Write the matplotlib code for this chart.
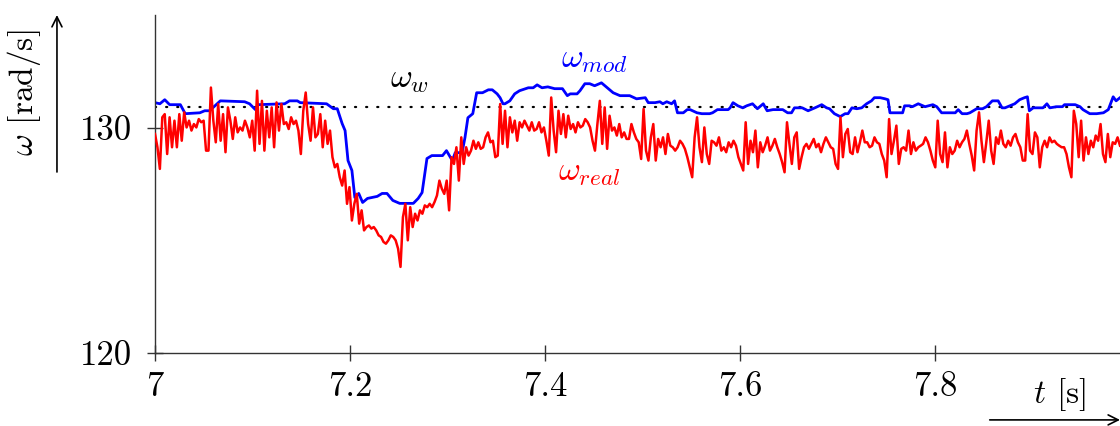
import matplotlib.pyplot as plt
import numpy as np

plt.rcParams['font.family'] = 'serif'
plt.rcParams['font.serif'] = ['cmr10']
plt.rcParams['mathtext.fontset'] = 'cm'
plt.rcParams['axes.unicode_minus'] = False

# model speed (blue), step-like
t_mod = [7.000, 7.005, 7.010, 7.015, 7.026, 7.031, 7.046, 7.051, 7.056, 7.067,
         7.092, 7.097, 7.103, 7.106, 7.133, 7.138, 7.146, 7.149, 7.176, 7.183,
         7.187, 7.192, 7.195, 7.198, 7.202, 7.205, 7.209, 7.213, 7.218, 7.228,
         7.233, 7.238, 7.244, 7.251, 7.265, 7.270, 7.274, 7.279, 7.284, 7.295,
         7.299, 7.305, 7.308, 7.315, 7.318, 7.321, 7.326, 7.330, 7.336, 7.342,
         7.346, 7.351, 7.354, 7.357, 7.359, 7.364, 7.369, 7.374, 7.383, 7.388,
         7.392, 7.397, 7.403, 7.410, 7.418, 7.423, 7.426, 7.433, 7.436, 7.441,
         7.446, 7.451, 7.458, 7.465, 7.470, 7.477, 7.487, 7.494, 7.503, 7.506,
         7.513, 7.518, 7.521, 7.525, 7.530, 7.533, 7.536, 7.542, 7.546, 7.549,
         7.556, 7.561, 7.569, 7.572, 7.577, 7.588, 7.590, 7.593, 7.598, 7.603,
         7.607, 7.613, 7.618, 7.624, 7.628, 7.634, 7.644, 7.649, 7.653, 7.656,
         7.664, 7.670, 7.677, 7.684, 7.689, 7.692, 7.697, 7.703, 7.708, 7.711,
         7.715, 7.720, 7.725, 7.730, 7.735, 7.738, 7.744, 7.749, 7.752, 7.754,
         7.767, 7.769, 7.774, 7.777, 7.783, 7.790, 7.798, 7.802, 7.807, 7.815,
         7.821, 7.824, 7.828, 7.833, 7.836, 7.843, 7.849, 7.853, 7.859, 7.865,
         7.869, 7.872, 7.877, 7.882, 7.887, 7.892, 7.895, 7.897, 7.901, 7.911,
         7.915, 7.918, 7.925, 7.931, 7.933, 7.944, 7.949, 7.952, 7.959, 7.966,
         7.973, 7.978, 7.983, 7.986, 7.990]
w_mod = [131.11, 131.06, 131.24, 131.02, 131.02, 130.62, 130.66, 130.75, 130.75, 131.19,
         131.15, 131.06, 130.80, 131.02, 131.06, 131.19, 131.19, 131.11, 131.06, 130.84,
         130.84, 130.18, 129.87, 128.54, 128.10, 126.90, 127.08, 126.68, 126.86, 126.95,
         127.08, 127.08, 126.77, 126.64, 126.64, 126.86, 127.12, 128.63, 128.76, 128.76,
         128.98, 128.54, 128.89, 128.89, 129.56, 130.44, 130.62, 131.55, 131.55, 131.68,
         131.68, 131.50, 131.33, 131.06, 131.06, 131.19, 131.50, 131.64, 131.77, 131.77,
         131.90, 131.77, 131.81, 131.73, 131.73, 131.42, 131.50, 131.50, 131.64, 131.95,
         131.95, 131.86, 131.99, 131.73, 131.55, 131.42, 131.42, 131.28, 131.33, 131.11,
         131.11, 131.15, 131.06, 131.15, 131.06, 131.19, 130.66, 130.66, 130.80, 130.80,
         130.66, 130.62, 130.62, 130.66, 130.80, 130.80, 130.88, 131.11, 130.97, 130.88,
         130.97, 131.06, 130.84, 131.06, 130.75, 130.80, 130.80, 130.66, 130.66, 130.88,
         130.88, 130.75, 130.88, 131.02, 130.88, 130.84, 130.62, 130.49, 130.62, 130.62,
         130.88, 130.84, 130.88, 131.06, 131.19, 131.33, 131.33, 131.28, 131.24, 130.66,
         130.66, 130.97, 130.97, 130.93, 131.06, 130.93, 131.02, 130.93, 130.66, 130.66,
         130.66, 130.80, 130.62, 130.62, 130.66, 130.84, 130.84, 130.93, 131.19, 131.19,
         130.88, 130.88, 130.97, 131.06, 131.24, 131.33, 131.37, 130.75, 130.88, 130.88,
         131.06, 130.88, 130.93, 130.93, 131.02, 131.02, 130.93, 130.80, 130.62, 130.62,
         130.66, 130.80, 131.37, 131.19, 131.33]

# measured speed (red), sampled every 2.5 ms
w_real = [
    # 7.00 - 7.17
    129.72, 129.13, 128.17, 130.46, 130.60, 128.83, 130.46, 129.13, 130.31, 129.13,
    130.60, 129.42, 130.68, 130.01, 130.31, 129.87, 130.16, 130.01, 130.38, 130.24,
    130.31, 128.98, 128.98, 131.78, 130.31, 129.35, 131.05, 129.42, 130.60, 128.91,
    130.90, 130.31, 129.50, 130.46, 129.79, 130.01, 129.87, 130.31, 130.01, 129.57,
    130.31, 128.98, 131.64, 129.28, 131.19, 128.98, 130.75, 129.57, 130.90, 129.13,
    131.12, 129.87, 131.05, 130.16, 130.24, 129.94, 130.46, 130.16, 130.31, 129.87,
    128.83, 130.75, 131.56, 130.16, 129.42, 130.90, 129.57, 129.72,
    # 7.17 - 7.33
    130.60, 129.13, 130.31, 129.28, 129.87, 128.69, 128.24, 128.39, 127.80, 127.43,
    128.10, 126.62, 127.36, 125.88, 126.62, 127.06, 125.74, 126.33, 125.44, 125.59,
    125.66, 125.52, 125.59, 125.44, 125.22, 125.15, 124.93, 124.85, 125.00, 125.22,
    125.15, 125.00, 124.63, 123.82, 126.03, 126.62, 125.00, 126.47, 125.59, 126.18,
    125.88, 126.33, 126.18, 126.55, 126.47, 126.62, 126.47, 126.70, 126.99, 127.65,
    127.29, 127.06, 127.65, 126.33, 128.69, 128.39, 129.13, 127.65, 129.57, 128.39,
    129.13, 128.76, 128.98, 129.42, 129.06,
    # 7.33 - 7.50
    129.35, 129.06, 129.13, 129.57, 129.79, 129.35, 129.42, 128.69, 128.76, 131.05,
    129.28, 130.75, 129.13, 130.46, 129.79, 130.31, 129.42, 130.24, 130.01, 130.31,
    130.09, 129.87, 130.24, 129.87, 129.94, 130.24, 129.79, 130.01, 129.42, 128.76,
    131.34, 129.87, 128.91, 130.75, 129.72, 130.60, 129.57, 130.53, 129.94, 130.16,
    129.79, 130.24, 130.01, 130.09, 130.38, 130.24, 130.01, 129.42, 128.98, 130.16,
    131.19, 129.28, 130.90, 129.06, 130.53, 129.87, 130.01, 129.65, 130.16, 129.57,
    129.79, 129.50, 129.50, 130.16, 129.79, 129.50,
    # 7.50 - 7.66
    129.35, 128.61, 130.83, 128.98, 128.54, 129.57, 130.16, 128.54, 129.50, 129.13,
    129.57, 128.83, 129.72, 129.20, 129.13, 128.98, 129.13, 129.42, 129.28, 129.06,
    128.69, 128.24, 127.80, 129.57, 130.46, 129.13, 128.47, 130.01, 128.83, 128.39,
    129.42, 129.35, 129.20, 129.57, 128.98, 129.13, 128.91, 129.35, 129.13, 129.42,
    129.20, 128.69, 128.39, 128.10, 130.24, 128.39, 129.42, 128.91, 129.87, 128.24,
    129.35, 128.91, 129.20, 129.57, 128.98, 129.20, 129.50, 129.13, 128.83, 128.47,
    128.02, 130.24, 129.28, 128.39, 129.57, 129.79,
    # 7.66 - 7.82
    128.17, 128.69, 129.13, 129.28, 129.06, 129.28, 129.50, 129.13, 129.28, 128.91,
    129.28, 129.57, 129.35, 129.13, 129.06, 128.39, 128.17, 130.46, 128.69, 129.72,
    129.94, 128.91, 128.83, 129.57, 128.91, 129.35, 129.87, 129.35, 129.35, 129.13,
    129.20, 129.57, 129.35, 129.28, 128.83, 128.54, 127.80, 130.38, 128.83, 129.42,
    130.09, 128.39, 129.06, 129.13, 128.98, 129.87, 128.83, 129.35, 128.98, 129.13,
    129.20, 129.28, 129.57, 129.35, 128.98, 128.54, 128.24, 130.31, 128.83, 128.47,
    129.79, 128.24, 129.13, 128.83, 128.98, 129.42,
    # 7.82 - 7.99
    129.13, 129.35, 129.50, 129.87, 129.28, 128.76, 128.10, 129.87, 130.68, 129.42,
    128.47, 129.35, 130.31, 128.98, 128.39, 129.57, 129.28, 129.87, 129.28, 129.13,
    129.42, 129.20, 129.57, 129.72, 129.35, 129.13, 128.54, 128.54, 130.60, 128.98,
    128.83, 129.79, 129.57, 128.24, 129.13, 129.42, 129.13, 129.57, 129.35, 129.42,
    129.28, 129.20, 129.13, 129.13, 128.83, 128.24, 127.80, 130.75, 130.16, 128.69,
    130.31, 128.54, 129.57, 128.83, 129.42, 129.13, 129.65, 129.42, 130.16, 128.83,
    128.47, 129.72, 128.69, 129.35, 129.28, 129.57, 129.20,
]
t_real = np.linspace(7.0, 7.99, len(w_real))

w_ref = 130.93

fig = plt.figure(figsize=(11.2, 4.26), dpi=100)
ax = fig.add_axes([0.1384, 0.1714, 0.8616, 0.7934])

ax.axhline(w_ref, color='black', lw=1.6, linestyle=(0, (0.5, 4.5)),
           dash_capstyle='round', zorder=1)
ax.plot(t_mod, w_mod, color='blue', lw=2.0, zorder=2)
ax.plot(t_real, w_real, color='red', lw=1.8, zorder=3)

ax.set_xlim(7, 7.99)
ax.set_ylim(120, 135)
ax.spines['top'].set_visible(False)
ax.spines['right'].set_visible(False)
for s in ['left', 'bottom']:
    ax.spines[s].set_color('#333333')
    ax.spines[s].set_linewidth(1.0)

ax.set_xticks([7, 7.2, 7.4, 7.6, 7.8], ['7', '7.2', '7.4', '7.6', '7.8'])
ax.set_yticks([120, 130], ['120', '130'])
ax.tick_params(direction='inout', length=11, width=1, color='#333333',
               labelsize=25)
ax.tick_params(axis='x', pad=8)
ax.tick_params(axis='y', pad=11)

ax.text(7.2615, 132.08, r'$\omega_w$', fontsize=24, ha='center', va='center')
ax.text(7.451, 132.96, r'$\omega_{mod}$', fontsize=24, color='blue',
        ha='center', va='center')
ax.text(7.446, 127.96, r'$\omega_{real}$', fontsize=24, color='red',
        ha='center', va='center')

# axis labels with arrows
ax.text(-0.136, 0.771, r'$\omega$ [rad/s]', rotation=90, fontsize=24,
        transform=ax.transAxes, ha='center', va='center')
ax.annotate('', xy=(-0.1016, 1.0), xytext=(-0.1016, 0.5355),
            xycoords='axes fraction', annotation_clip=False,
            arrowprops=dict(arrowstyle='->', lw=1.2, color='black',
                            shrinkA=0, shrinkB=0, mutation_scale=18))
ax.text(0.937, -0.124, r'$t$ [s]', fontsize=24, transform=ax.transAxes,
        ha='center', va='center')
ax.annotate('', xy=(1.0, -0.198), xytext=(0.865, -0.198),
            xycoords='axes fraction', annotation_clip=False,
            arrowprops=dict(arrowstyle='->', lw=1.2, color='black',
                            shrinkA=0, shrinkB=0, mutation_scale=18))

fig.savefig('out.png', dpi=100)
